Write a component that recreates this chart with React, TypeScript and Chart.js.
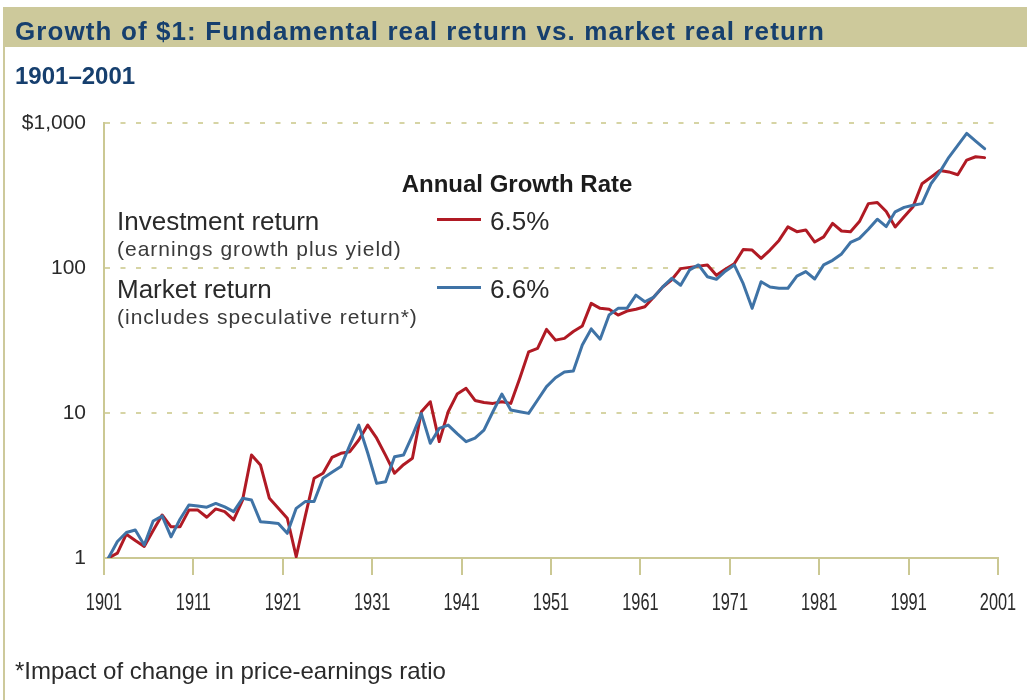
import React, { useEffect, useRef } from 'react';
import { Chart, registerables } from 'chart.js';

Chart.register(...registerables);

// ---------- data ----------
const FIRST_YEAR = 1901;

// Investment return (earnings growth plus yield), growth of $1, 1901-1999
const INVESTMENT_RETURN = [
  1.0, 1.08, 1.46, 1.32, 1.2, 1.55, 1.98, 1.64, 1.64, 2.14,
  2.14, 1.91, 2.18, 2.09, 1.83, 2.51, 5.13, 4.38, 2.58, 2.2,
  1.88, 1.02, 1.93, 3.55, 3.84, 4.94, 5.27, 5.41, 6.51, 8.25,
  6.7, 5.1, 3.84, 4.4, 4.87, 10.2, 11.96, 6.35, 10.2, 13.5,
  14.8, 12.2, 11.8, 11.65, 11.96, 11.65, 17.3, 26.4, 27.9, 37.7,
  31.8, 32.7, 36.5, 39.8, 57.0, 52.7, 51.9, 47.4, 50.5, 52.0,
  54.0, 63.0, 74.0, 83.0, 99.0, 101, 103, 105, 89, 98,
  107, 134, 133, 116.5, 133, 155, 192, 178, 183, 151,
  164, 203, 180, 178, 209, 278, 283, 245, 192, 226,
  265, 381, 423, 470, 460, 440, 555, 585, 577,
];

// Market return (includes speculative return), growth of $1, 1901-1999
const MARKET_RETURN = [
  1.0, 1.3, 1.5, 1.56, 1.23, 1.8, 1.95, 1.4, 1.85, 2.32,
  2.28, 2.24, 2.38, 2.25, 2.09, 2.58, 2.51, 1.78, 1.76, 1.73,
  1.48, 2.2, 2.45, 2.45, 3.55, 3.9, 4.27, 6.0, 8.25, 5.3,
  3.27, 3.36, 5.0, 5.13, 7.0, 9.9, 6.18, 7.83, 8.25, 7.2,
  6.34, 6.7, 7.62, 10.2, 13.5, 10.5, 10.2, 9.94, 12.3, 15.2,
  17.5, 19.2, 19.5, 29.4, 38.0, 32.3, 47.4, 52.7, 52.7, 65.0,
  58.5, 63.0, 74.1, 85.0, 76.0, 97.0, 105, 87.0, 83.6, 95.0,
  105, 78.0, 52.7, 80.4, 74.0, 72.5, 72.5, 88.0, 94.5, 84.0,
  105, 113, 125, 150, 160, 185, 217, 193, 244, 262,
  271, 278, 381, 460, 580, 700, 847, 750, 665,
];

const YEARS = INVESTMENT_RETURN.map((_, i) => FIRST_YEAR + i);

const X_TICKS = [1901, 1911, 1921, 1931, 1941, 1951, 1961, 1971, 1981, 1991, 2001];
const Y_TICKS = [1, 10, 100, 1000];
const Y_TICK_LABELS = ['1', '10', '100', '$1,000'];

const TITLE = 'Growth of $1: Fundamental real return vs. market real return';
const SUBTITLE = '1901–2001';
const LEGEND_TITLE = 'Annual Growth Rate';
const SERIES_NAMES = ['Investment return', 'Market return'];
const SERIES_NOTES = ['(earnings growth plus yield)', '(includes speculative return*)'];
const GROWTH_RATES = ['6.5%', '6.6%'];
const FOOTNOTE = '*Impact of change in price-earnings ratio';

// ---------- styling ----------
const W = 1027;
const H = 700;
const AREA = { left: 104, right: 998, top: 123, bottom: 558 };
const X_AXIS_H = 60;
const X_LABEL_OFFSET = 45;
const X_LABEL_SIZE = 24;
const X_LABEL_SQUEEZE = 0.68;

const RED = '#b01a24';
const BLUE = '#3f73a6';
const KHAKI = '#cbc893';
const GRID_KHAKI = '#d6d4a4';
const BAR = '#cdc99b';
const NAVY = '#163f6e';
const TEXT = '#2a2a2a';
const SANS = "'Liberation Sans', Arial, Helvetica, sans-serif";

const SERIES_COLORS = [RED, BLUE];

// condensed x-axis labels (drawn with a horizontal squeeze, like the original's narrow face)
const condensedXLabels = {
  id: 'condensedXLabels',
  afterDraw(chart: any) {
    const s = chart.scales.x;
    const ctx = chart.ctx;
    ctx.save();
    ctx.fillStyle = TEXT;
    ctx.font = `${X_LABEL_SIZE}px ${SANS}`;
    ctx.textAlign = 'center';
    ctx.textBaseline = 'middle';
    const y = chart.chartArea.bottom + X_LABEL_OFFSET;
    s.ticks.forEach((t: any) => {
      const x = s.getPixelForValue(t.value);
      ctx.save();
      ctx.translate(x, y);
      ctx.scale(X_LABEL_SQUEEZE, 1);
      ctx.fillText(String(t.value), 0, 0);
      ctx.restore();
    });
    ctx.restore();
  },
};

function App() {
  const canvasRef = useRef<HTMLCanvasElement | null>(null);

  useEffect(() => {
    const canvas = canvasRef.current;
    if (!canvas) return;
    const chart = new Chart(canvas, {
      type: 'line',
      data: {
        datasets: [
          {
            label: SERIES_NAMES[1],
            data: MARKET_RETURN.map((v, i) => ({ x: YEARS[i] + 0.5, y: v })),
            borderColor: BLUE,
            borderWidth: 3,
            pointRadius: 0,
            tension: 0,
            borderJoinStyle: 'round',
            borderCapStyle: 'round',
          },
          {
            label: SERIES_NAMES[0],
            data: INVESTMENT_RETURN.map((v, i) => ({ x: YEARS[i] + 0.5, y: v })),
            borderColor: RED,
            borderWidth: 3,
            pointRadius: 0,
            tension: 0,
            borderJoinStyle: 'round',
            borderCapStyle: 'round',
          },
        ],
      },
      options: {
        responsive: false,
        animation: false,
        events: [],
        layout: {
          padding: {
            left: 0,
            right: W - AREA.right,
            top: AREA.top,
            bottom: H - AREA.bottom - X_AXIS_H,
          },
        },
        plugins: {
          legend: { display: false },
          tooltip: { enabled: false },
          title: { display: false },
        },
        scales: {
          x: {
            type: 'linear',
            min: X_TICKS[0],
            max: X_TICKS[X_TICKS.length - 1],
            afterBuildTicks: (s: any) => {
              s.ticks = X_TICKS.map((v) => ({ value: v }));
            },
            afterFit: (s: any) => {
              s.height = X_AXIS_H;
              s.paddingLeft = 0;
              s.paddingRight = 0;
            },
            ticks: { display: false, autoSkip: false, maxRotation: 0, minRotation: 0 },
            grid: {
              drawOnChartArea: false,
              drawTicks: true,
              tickLength: 17,
              tickWidth: 2,
              tickColor: KHAKI,
              color: KHAKI,
              lineWidth: 2,
            },
            border: { display: true, color: KHAKI, width: 2 },
          },
          y: {
            type: 'logarithmic',
            min: Y_TICKS[0],
            max: Y_TICKS[Y_TICKS.length - 1],
            afterBuildTicks: (s: any) => {
              s.ticks = Y_TICKS.map((v) => ({ value: v }));
            },
            afterFit: (s: any) => {
              s.width = AREA.left;
              s.paddingTop = 0;
              s.paddingBottom = 0;
            },
            ticks: {
              padding: 18,
              color: TEXT,
              font: { family: SANS, size: 21 },
              callback: (v: any) => {
                const i = Y_TICKS.indexOf(Number(v));
                return i >= 0 ? Y_TICK_LABELS[i] : '';
              },
            },
            grid: {
              drawTicks: false,
              lineWidth: 2,
              color: (ctx: any) =>
                ctx.tick && ctx.tick.value === Y_TICKS[0] ? 'rgba(0,0,0,0)' : GRID_KHAKI,
            },
            border: { display: true, color: KHAKI, width: 2, dash: [5, 10.5] },
          },
        },
      },
      plugins: [condensedXLabels],
    } as any);
    return () => chart.destroy();
  }, []);

  const abs = (extra: React.CSSProperties): React.CSSProperties => ({
    position: 'absolute',
    whiteSpace: 'nowrap',
    lineHeight: 1,
    margin: 0,
    ...extra,
  });

  return (
    <div
      style={{
        position: 'absolute',
        left: 0,
        top: 0,
        width: W,
        height: H,
        background: '#ffffff',
        overflow: 'hidden',
        fontFamily: SANS,
      }}
    >
      {/* frame */}
      <div style={abs({ left: 3, top: 7, width: 2, height: H - 7, background: BAR })} />
      <div style={abs({ left: 3, top: 7, width: W - 3, height: 40, background: BAR })} />

      <canvas
        ref={canvasRef}
        width={W}
        height={H}
        style={{ position: 'absolute', left: 0, top: 0, width: W, height: H }}
      />

      {/* title */}
      <div
        style={abs({
          left: 15,
          top: 40 - 0.8465 * 26,
          fontSize: 26,
          fontWeight: 'bold',
          color: NAVY,
          letterSpacing: 1.1,
        })}
      >
        {TITLE}
      </div>
      <div
        style={abs({
          left: 15,
          top: 84 - 0.8465 * 24,
          fontSize: 24,
          fontWeight: 'bold',
          color: NAVY,
        })}
      >
        {SUBTITLE}
      </div>

      {/* legend */}
      <div
        style={abs({
          left: 517,
          top: 192 - 0.8465 * 24,
          fontSize: 24,
          fontWeight: 'bold',
          color: '#1c1c1c',
          transform: 'translateX(-50%)',
        })}
      >
        {LEGEND_TITLE}
      </div>
      {SERIES_NAMES.map((name, i) => {
        const base = i === 0 ? 230 : 298;
        return (
          <React.Fragment key={name}>
            <div style={abs({ left: 117, top: base - 0.8465 * 26, fontSize: 26, color: TEXT })}>
              {name}
            </div>
            <div
              style={abs({
                left: 117,
                top: base + 26 - 0.8465 * 21,
                fontSize: 21,
                color: '#3a3a3a',
                letterSpacing: 1,
              })}
            >
              {SERIES_NOTES[i]}
            </div>
            <div
              style={abs({
                left: 437,
                top: base - 12,
                width: 44,
                height: 3,
                background: SERIES_COLORS[i],
              })}
            />
            <div style={abs({ left: 490, top: base - 0.8465 * 26, fontSize: 26, color: TEXT })}>
              {GROWTH_RATES[i]}
            </div>
          </React.Fragment>
        );
      })}

      {/* footnote */}
      <div style={abs({ left: 15, top: 679 - 0.8465 * 24, fontSize: 24, color: TEXT })}>
        {FOOTNOTE}
      </div>
    </div>
  );
}

export default App;
